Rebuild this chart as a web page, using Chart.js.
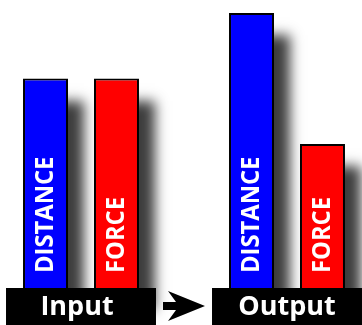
<!DOCTYPE html>
<html>
<head>
<meta charset="utf-8">
<script src="https://cdn.jsdelivr.net/npm/chart.js@4/dist/chart.umd.min.js"></script>
<style>
  html, body { margin: 0; padding: 0; background: #ffffff; }
  #wrap { width: 362px; height: 325px; }
</style>
</head>
<body>
<div id="wrap"><canvas id="c" width="362" height="325"></canvas></div>
<script>
// Stages of the machine and the two quantities compared at each stage
const categories = ['Input', 'Output'];
const seriesNames = ['DISTANCE', 'FORCE'];
const distanceValues = [4, 5.25];
const forceValues = [4, 2.75];
const seriesColors = ['#0000ff', '#ff0000'];

const FONT = '"Open Sans", "DejaVu Sans", sans-serif';

// Soft drop shadow behind every bar, painted before the bars themselves
const barShadows = {
  id: 'barShadows',
  beforeDatasetsDraw(chart) {
    const ctx = chart.ctx;
    const far = 3000;
    ctx.save();
    ctx.fillStyle = '#000';
    ctx.shadowColor = 'rgba(0,0,0,0.76)';
    ctx.shadowBlur = 12;
    ctx.shadowOffsetX = 16 + far;
    ctx.shadowOffsetY = 22;
    chart.data.datasets.forEach((ds, di) => {
      chart.getDatasetMeta(di).data.forEach(bar => {
        const p = bar.getProps(['x', 'y', 'base', 'width'], true);
        ctx.fillRect(p.x - p.width / 2 - far, p.y, p.width, p.base - p.y);
      });
    });
    ctx.restore();
  }
};

// Vertical series names written inside the bars, plus the stage plates and arrow
const decorations = {
  id: 'decorations',
  afterDatasetsDraw(chart) {
    const ctx = chart.ctx;
    const xs = chart.scales.x;
    const area = chart.chartArea;

    // names inside bars, reading bottom to top
    ctx.save();
    ctx.fillStyle = '#ffffff';
    ctx.font = 'bold 25px ' + FONT;
    ctx.textAlign = 'left';
    ctx.textBaseline = 'middle';
    chart.data.datasets.forEach((ds, di) => {
      chart.getDatasetMeta(di).data.forEach(bar => {
        const p = bar.getProps(['x', 'base'], true);
        ctx.save();
        ctx.translate(p.x + 0.5, p.base - 15);
        ctx.rotate(-Math.PI / 2);
        ctx.scale(0.95, 1);
        ctx.fillText(ds.label, 0, 0);
        ctx.restore();
      });
    });
    ctx.restore();

    // black plates carrying the stage names
    const step = xs.getPixelForValue(1) - xs.getPixelForValue(0);
    const half = step * 0.364;
    ctx.save();
    categories.forEach((name, i) => {
      const cx = xs.getPixelForValue(i);
      ctx.fillStyle = '#000000';
      ctx.fillRect(cx - half, area.bottom, half * 2, chart.height - area.bottom);
      ctx.fillStyle = '#ffffff';
      ctx.font = 'bold 27px ' + FONT;
      ctx.textAlign = 'center';
      ctx.textBaseline = 'alphabetic';
      ctx.fillText(name, cx - (i === 0 ? 4 : 0), area.bottom + 26.5);
    });

    // arrow from the first plate to the second
    const mid = (xs.getPixelForValue(0) + xs.getPixelForValue(1)) / 2;
    const ay = area.bottom + 18;
    ctx.fillStyle = '#000000';
    ctx.beginPath();
    ctx.moveTo(mid - 21, ay - 4);
    ctx.lineTo(mid - 8, ay - 4);
    ctx.lineTo(mid - 16, ay - 15);
    ctx.lineTo(mid + 21, ay);
    ctx.lineTo(mid - 16, ay + 15);
    ctx.lineTo(mid - 8, ay + 4);
    ctx.lineTo(mid - 21, ay + 4);
    ctx.closePath();
    ctx.fill();
    ctx.restore();
  }
};

new Chart(document.getElementById('c'), {
  type: 'bar',
  data: {
    labels: categories,
    datasets: [
      {
        label: seriesNames[0],
        data: distanceValues,
        backgroundColor: seriesColors[0],
        borderColor: '#000000',
        borderWidth: 2,
        clip: false
      },
      {
        label: seriesNames[1],
        data: forceValues,
        backgroundColor: seriesColors[1],
        borderColor: '#000000',
        borderWidth: 2,
        clip: false
      }
    ]
  },
  options: {
    responsive: false,
    animation: false,
    devicePixelRatio: 1,
    categoryPercentage: 0.689,
    barPercentage: 0.634,
    layout: { padding: { left: 81, right: 75, top: 0, bottom: 37 } },
    plugins: {
      legend: { display: false },
      tooltip: { enabled: false },
      title: { display: false }
    },
    scales: {
      x: { display: false, offset: false, grid: { display: false } },
      y: { display: false, min: 0, max: 5.5, grid: { display: false } }
    }
  },
  plugins: [barShadows, decorations]
});
</script>
</body>
</html>
